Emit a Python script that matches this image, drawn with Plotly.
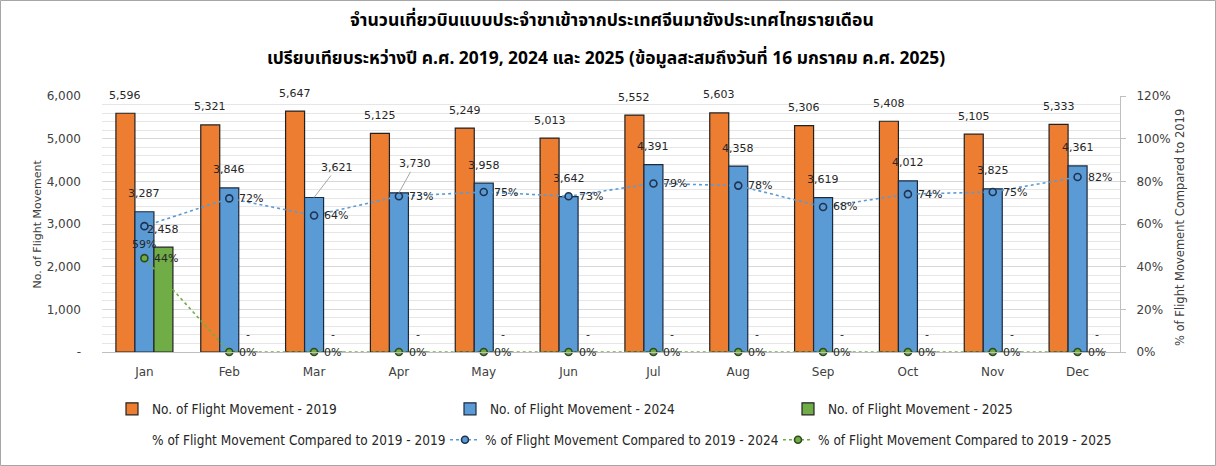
import plotly.graph_objects as go

months = ["Jan", "Feb", "Mar", "Apr", "May", "Jun", "Jul", "Aug", "Sep", "Oct", "Nov", "Dec"]
flights_2019 = [5596, 5321, 5647, 5125, 5249, 5013, 5552, 5603, 5306, 5408, 5105, 5333]
flights_2024 = [3287, 3846, 3621, 3730, 3958, 3642, 4391, 4358, 3619, 4012, 3825, 4361]
flights_2025 = [2458, 0, 0, 0, 0, 0, 0, 0, 0, 0, 0, 0]
pct_2019 = [1.00] * 12
pct_2024 = [0.59, 0.72, 0.64, 0.73, 0.75, 0.73, 0.79, 0.78, 0.68, 0.74, 0.75, 0.82]
pct_2025 = [0.44, 0, 0, 0, 0, 0, 0, 0, 0, 0, 0, 0]

y_tickvals = [0, 1000, 2000, 3000, 4000, 5000, 6000]
y_ticktext = ["-", "1,000", "2,000", "3,000", "4,000", "5,000", "6,000"]
y2_tickvals = [0, 0.2, 0.4, 0.6, 0.8, 1.0, 1.2]
y2_ticktext = ["0%", "20%", "40%", "60%", "80%", "100%", "120%"]

title_1 = "จำนวนเที่ยวบินแบบประจำขาเข้าจากประเทศจีนมายังประเทศไทยรายเดือน"
title_2 = "เปรียบเทียบระหว่างปี ค.ศ. 2019, 2024 และ 2025 (ข้อมูลสะสมถึงวันที่ 16 มกราคม ค.ศ. 2025)"

W, H = 1216, 466
ML, MR, MT, MB = 102, 96, 96, 114
PW, PH = W - ML - MR, H - MT - MB
BARGAP = 0.328
BAR_W = PW / len(months) * (1 - BARGAP) / 3

FONT = "DejaVu Sans"
THAI = "Noto Sans Thai, Tahoma, Leelawadee UI, DejaVu Sans, sans-serif"
LEG_FONT = "Liberation Sans Narrow, DejaVu Sans Condensed, Liberation Sans, sans-serif"
C_OR, C_BL, C_GR = "#ED7D31", "#5B9BD5", "#70AD47"
OUTLINE = "#222222"

def fmt(v):
    return "-" if v == 0 else f"{v:,}"

def pct(v):
    return f"{round(v * 100)}%"

fig = go.Figure()
fig.add_trace(go.Bar(x=months, y=flights_2019, name="No. of Flight Movement - 2019",
                     marker=dict(color=C_OR, line=dict(color=OUTLINE, width=1.2)), legend="legend"))
fig.add_trace(go.Bar(x=months, y=flights_2024, name="No. of Flight Movement - 2024",
                     marker=dict(color=C_BL, line=dict(color="#1B2A3F", width=1.2)), legend="legend"))
fig.add_trace(go.Bar(x=months, y=flights_2025, name="No. of Flight Movement - 2025",
                     marker=dict(color=C_GR, line=dict(color=OUTLINE, width=1.2)), legend="legend"))

fig.add_trace(go.Scatter(x=months, y=pct_2019, yaxis="y2", mode="lines",
                         name="% of Flight Movement Compared to 2019 - 2019",
                         line=dict(color="rgba(0,0,0,0)", width=0), legend="legend2"))
fig.add_trace(go.Scatter(x=months, y=pct_2024, yaxis="y2", mode="lines+markers",
                         name="% of Flight Movement Compared to 2019 - 2024",
                         line=dict(color=C_BL, width=1.6, dash="dot"),
                         marker=dict(size=7, color=C_BL, line=dict(color="#1F3350", width=1.6)),
                         cliponaxis=False, legend="legend2"))
fig.add_trace(go.Scatter(x=months, y=pct_2025, yaxis="y2", mode="lines+markers",
                         name="% of Flight Movement Compared to 2019 - 2025",
                         line=dict(color=C_GR, width=1.6, dash="dot"),
                         marker=dict(size=7, color=C_GR, line=dict(color="#2F4A1D", width=1.6)),
                         cliponaxis=False, legend="legend2"))

annotations = []
label_font = dict(family=FONT, size=11, color="#262626")
nudges_2024 = {"Mar": (23, -30), "Apr": (16, -29)}
for m, a, b, c in zip(months, flights_2019, flights_2024, flights_2025):
    annotations.append(dict(x=m, y=a, xref="x", yref="y", text=fmt(a), showarrow=False,
                            xshift=-BAR_W, yshift=18, font=label_font))
    if m in nudges_2024:
        ax, ay = nudges_2024[m]
        annotations.append(dict(x=m, y=b, xref="x", yref="y", text=fmt(b), showarrow=True,
                                arrowhead=0, arrowwidth=1, arrowcolor="#A6A6A6",
                                ax=ax, ay=ay, font=label_font))
    else:
        annotations.append(dict(x=m, y=b, xref="x", yref="y", text=fmt(b), showarrow=False,
                                yshift=18, font=label_font))
    annotations.append(dict(x=m, y=c, xref="x", yref="y", text=fmt(c), showarrow=False,
                            xshift=BAR_W, yshift=18, font=label_font))

for i, (m, p) in enumerate(zip(months, pct_2024)):
    if i == 0:
        annotations.append(dict(x=m, y=p, xref="x", yref="y2", text=pct(p), showarrow=False,
                                yshift=-18, font=label_font))
    else:
        annotations.append(dict(x=m, y=p, xref="x", yref="y2", text=pct(p), showarrow=False,
                                xanchor="left", xshift=8, font=label_font))
for m, p in zip(months, pct_2025):
    annotations.append(dict(x=m, y=p, xref="x", yref="y2", text=pct(p), showarrow=False,
                            xanchor="left", xshift=8, font=label_font))

annotations.append(dict(xref="paper", yref="paper", x=(612 - ML) / PW, y=(MT + PH - 20) / PH,
                        text=title_1, showarrow=False, yanchor="middle",
                        font=dict(family=THAI, size=17.6, color="#000000", weight="bold")))
annotations.append(dict(xref="paper", yref="paper", x=(606 - ML) / PW, y=(MT + PH - 58) / PH,
                        text=title_2, showarrow=False, yanchor="middle",
                        font=dict(family=THAI, size=17.4, color="#000000", weight="bold")))
annotations.append(dict(xref="paper", yref="paper", x=(28 - ML) / PW, y=(MT + PH - 224) / PH,
                        textangle=-90, text="No. of Flight Movement", showarrow=False,
                        font=dict(family=FONT, size=11, color="#404040")))
annotations.append(dict(xref="paper", yref="paper", x=(1189 - ML) / PW, y=(MT + PH - 228) / PH,
                        textangle=-90, text="% of Flight Movement Compared to 2019", showarrow=False,
                        font=dict(family=FONT, size=11.5, color="#404040")))

fig.update_layout(
    width=W, height=H,
    margin=dict(l=ML, r=MR, t=MT, b=MB, autoexpand=False),
    paper_bgcolor="white", plot_bgcolor="white",
    barmode="group", bargap=BARGAP, bargroupgap=0,
    font=dict(family=FONT, size=12, color="#404040"),
    xaxis=dict(range=[-0.5, len(months) - 0.5], showline=True, linecolor="#BFBFBF", linewidth=1,
               ticks="", tickfont=dict(size=12, color="#404040"), ticklabelstandoff=9),
    yaxis=dict(range=[0, 6000], tickvals=y_tickvals, ticktext=y_ticktext,
               showgrid=True, gridcolor="#D9D9D9", gridwidth=1, zeroline=False,
               minor=dict(dtick=200, showgrid=True, gridcolor="#E6E6E6", gridwidth=1),
               showline=False, ticklabelstandoff=20, tickfont=dict(size=12, color="#404040")),
    yaxis2=dict(range=[0, 1.2], tickvals=y2_tickvals, ticktext=y2_ticktext, overlaying="y",
                side="right", showgrid=False, zeroline=False, showline=True,
                linecolor="#BFBFBF", linewidth=1, ticks="outside", ticklen=5,
                tickcolor="#BFBFBF", ticklabelstandoff=8,
                tickfont=dict(size=12, color="#404040")),
    legend=dict(orientation="h", x=(112 - ML) / PW, xanchor="left",
                y=(MT + PH - 409) / PH, yanchor="middle",
                entrywidth=293, entrywidthmode="pixels",
                font=dict(family=LEG_FONT, size=13.5, color="#262626"), bgcolor="rgba(0,0,0,0)"),
    legend2=dict(orientation="h", x=(112 - ML) / PW, xanchor="left",
                 y=(MT + PH - 440) / PH, yanchor="middle",
                 entrywidth=288, entrywidthmode="pixels",
                 font=dict(family=LEG_FONT, size=13.5, color="#262626"), bgcolor="rgba(0,0,0,0)"),
    annotations=annotations,
    shapes=[dict(type="rect", xref="paper", yref="paper",
                 x0=(0.5 - ML) / PW, x1=(W - 0.5 - ML) / PW,
                 y0=(MT + PH - (H - 0.5)) / PH, y1=(MT + PH - 0.5) / PH,
                 line=dict(color="#A6A6A6", width=1), fillcolor="rgba(0,0,0,0)", layer="below")],
    showlegend=True,
)

fig.write_html("out.html")
